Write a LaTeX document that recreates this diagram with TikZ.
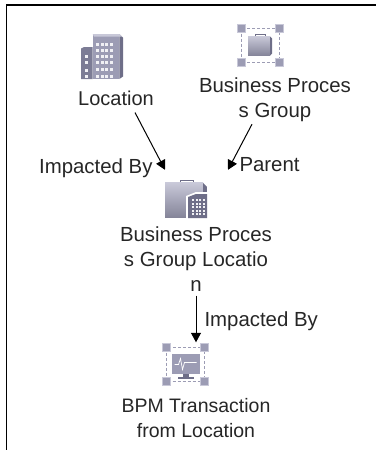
\documentclass[tikz,border=0pt]{standalone}
\usepackage{fontspec}
\setmainfont{Liberation Sans}
\usetikzlibrary{arrows.meta}
\definecolor{iconmid}{HTML}{9C9CB4}
\definecolor{icondark}{HTML}{6E6E88}
\definecolor{iconlight}{HTML}{C8C8D8}
\tikzset{
  label text/.style={align=center,font=\fontsize{20.4}{25}\selectfont,inner sep=0pt,text=black!85},
  edge text/.style={font=\fontsize{20.4}{25}\selectfont,inner sep=0pt,text=black!85},
  icon box/.style={inner sep=0pt,minimum width=44pt,minimum height=44pt},
  link/.style={-{Triangle[length=9.5pt,width=10pt]},line width=1pt,black},
  corner/.style={fill=iconmid,draw=iconlight,line width=0.5pt},
  building/.pic={
    \fill [iconmid] (-9.3,-22.5) -- (17.3,-22.5) -- (17.3,22.5) -- (-9.3,22.5) -- cycle;
    \fill [icondark] (17.3,-22.5) -- (21,-19) -- (21,20) -- (17.3,22.5) -- cycle;
    \fill [iconlight] (-9.3,-22.5) -- (17.3,-22.5) -- (20,-20) -- (-8,-20) -- cycle;
    \fill [icondark!70!iconmid] (-21,-8) -- (-18,-9.5) -- (-9.3,-9.5) -- (-9.3,22.5) -- (-21,22.5) -- cycle;
    \foreach \col in {-4.7,0,4.7,9.3} \foreach \row in {-12.5,-6.5,0,6,13,19.5}
      \fill [white!85!iconmid] (\col-1.5,\row-1.5) rectangle (\col+1.5,\row+1.5);
    \foreach \row in {-0.5,6,13.5,20}
      \fill [white!85!iconmid] (-17.5,\row-1.5) rectangle (-14.5,\row+1.5);
  },
  selection/.pic={
    \draw [iconmid,densely dashed,line width=1pt] (-19,-17) rectangle (19,17);
    \foreach \sx in {-19,19} \foreach \sy in {-17,17}
      \draw [corner] (\sx-4,\sy-4) rectangle (\sx+4,\sy+4);
  },
  case/.pic={
    \draw [icondark,line width=1pt] (-5,-9) -- (-5,-11.5) -- (5,-11.5) -- (5,-9);
    \shade [top color=iconlight,bottom color=iconmid!85!black] (-12,-9) rectangle (10,10);
    \fill [icondark] (10,-9) -- (12,-7) -- (12,8) -- (10,10) -- cycle;
  },
}
\begin{document}
\begin{tikzpicture}[x=1pt,y=-1pt]
    \useasboundingbox (0,0) rectangle (376,450);
    \draw [line width=1.5pt,black] (6.5,450) -- (6.5,5) -- (376,5);

    % icons
    \node [icon box] (locationicon) at (102,56.5) {};
    \pic at (locationicon) {building};
    \node [icon box] (groupicon) at (260,45.5) {};
    \pic at (groupicon) {selection};
    \pic at (groupicon) {case};
    \node [icon box] (grouplocicon) at (186,200) {};
    \begin{scope}[shift={(grouplocicon.center)},scale=1.9]
      \draw [icondark,line width=0.6pt] (-3,-9) -- (-3,-10.5) -- (4,-10.5) -- (4,-9);
      \shade [top color=iconlight,bottom color=iconmid!85!black] (-11,-9) rectangle (9,9);
      \fill [icondark] (9,-9) -- (11,-7) -- (11,7) -- (9,9) -- cycle;
    \end{scope}
    \begin{scope}[shift={(grouplocicon.center)}]
      \fill [white] (0,-4) -- (10,-8) -- (23,-8) -- (23,19) -- (0,19) -- cycle;
      \fill [icondark] (2,-3) -- (10,-6) -- (21,-6) -- (21,18) -- (2,18) -- cycle;
      \foreach \col in {7,10.5,14,17.5} \foreach \row in {0,3.5,7,10.5,14}
        \fill [white!85!iconmid] (\col-1,\row-1) rectangle (\col+1,\row+1);
    \end{scope}
    \node [icon box] (bpmicon) at (185.5,364.5) {};
    \pic at (bpmicon) {selection};
    \begin{scope}[shift={(bpmicon.center)}]
      \fill [iconmid] (-14,-11) rectangle (14,9);
      \draw [white,line width=0.7pt] (-11,0) -- (-7,0) -- (-5,-6) -- (-3,5) -- (-1,-2) -- (11,-2);
      \fill [icondark] (-3,9) rectangle (3,12);
      \fill [icondark] (-8,12) rectangle (8,14);
    \end{scope}

    % names
    \node [label text,font=\fontsize{20}{25}\selectfont] (location) at (116,98) {Location};
    \node [label text] (group) at (275,100) {Business Proces\\s Group};
    \node [label text] (grouploc) at (196,259.5) {Business Proces\\s Group Locatio\\n};
    \node [label text,font=\fontsize{19.5}{25}\selectfont] (bpm) at (196,418.5) {BPM Transaction\\from Location};

    % links
    \draw [link] ([xshift=19pt,yshift=-7pt]location.south) -- node [pos=1,left,edge text,xshift=-12pt,yshift=2pt] (impactedloc) {Impacted By} ([xshift=-21pt,yshift=8pt]grouplocicon.north);
    \draw [link] ([xshift=-23pt,yshift=-2pt]group.south) -- node [pos=1,right,edge text,xshift=11pt,yshift=5pt] (parentlink) {Parent} ([xshift=42pt,yshift=8pt]grouplocicon.north);
    \draw [link] ([yshift=-3.5pt]grouploc.south) -- node [right,edge text,xshift=8pt,yshift=-2pt] (impactedbpm) {Impacted By} ([xshift=10.5pt]bpmicon.north);
  \end{tikzpicture}
\end{document}
